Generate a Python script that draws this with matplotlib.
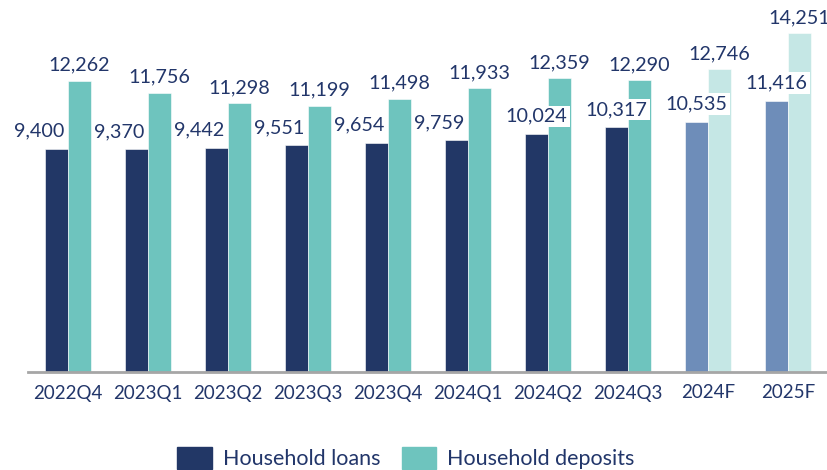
import matplotlib
matplotlib.use("Agg")
import matplotlib.pyplot as plt
from matplotlib.patches import Patch
import numpy as np

categories = ["2022Q4", "2023Q1", "2023Q2", "2023Q3", "2023Q4", "2024Q1",
              "2024Q2", "2024Q3", "2024F", "2025F"]
loans = [9400, 9370, 9442, 9551, 9654, 9759, 10024, 10317, 10535, 11416]
deposits = [12262, 11756, 11298, 11199, 11498, 11933, 12359, 12290, 12746, 14251]
forecast = [False] * 8 + [True, True]

plt.rcParams['font.family'] = ['Lato', 'DejaVu Sans']
TXT = "#22366A"
C_LOAN, C_DEP = "#223766", "#6EC4BE"
C_LOAN_F, C_DEP_F = "#6E8DB9", "#C5E7E5"

fig = plt.figure(figsize=(8.28, 4.70), dpi=100)
ax = fig.add_axes([28/828, 1 - 372/470, 800/828, 372/470])

x = np.arange(len(categories))
w = 0.2875
lc = [C_LOAN_F if f else C_LOAN for f in forecast]
dc = [C_DEP_F if f else C_DEP for f in forecast]
ax.bar(x - w/2, loans, width=w, color=lc, edgecolor="white", linewidth=0.4)
ax.bar(x + w/2, deposits, width=w, color=dc, edgecolor="white", linewidth=0.4)

for i in range(len(x)):
    boxed = i >= 6
    dx = 0 if boxed else -12.5
    kw = dict(bbox=dict(boxstyle="square,pad=0.12", fc="white", ec="none")) if boxed else {}
    ax.annotate(f"{loans[i]:,}", (x[i] - w/2, loans[i]), xytext=(dx, 12.5),
                textcoords="offset points", ha="center", va="center",
                fontsize=14.2, color=TXT, **kw)
    ax.annotate(f"{deposits[i]:,}", (x[i] + w/2, deposits[i]), xytext=(0, 5),
                textcoords="offset points", ha="center", va="bottom",
                fontsize=14.2, color=TXT)

ax.set_xlim(-0.5, len(x) - 0.5)
ax.set_ylim(0, 15650)
ax.set_yticks([])
for s in ["top", "right", "left"]:
    ax.spines[s].set_visible(False)
ax.spines["bottom"].set_color("#A6A6A6")
ax.spines["bottom"].set_linewidth(2)
ax.set_xticks(x)
ax.set_xticklabels(categories, fontsize=13.5, color=TXT)
ax.tick_params(axis="x", length=0, pad=9)

handles = [Patch(color=C_LOAN, label="Household loans"),
           Patch(color=C_DEP, label="Household deposits")]
fig.legend(handles=handles, loc="center", bbox_to_anchor=(0.49, 1 - 458/470),
           ncol=2, frameon=False, fontsize=15.5, labelcolor=TXT,
           handlelength=1.6, handleheight=1.2, columnspacing=1.0, handletextpad=0.5)

fig.savefig("out.png", dpi=100)
